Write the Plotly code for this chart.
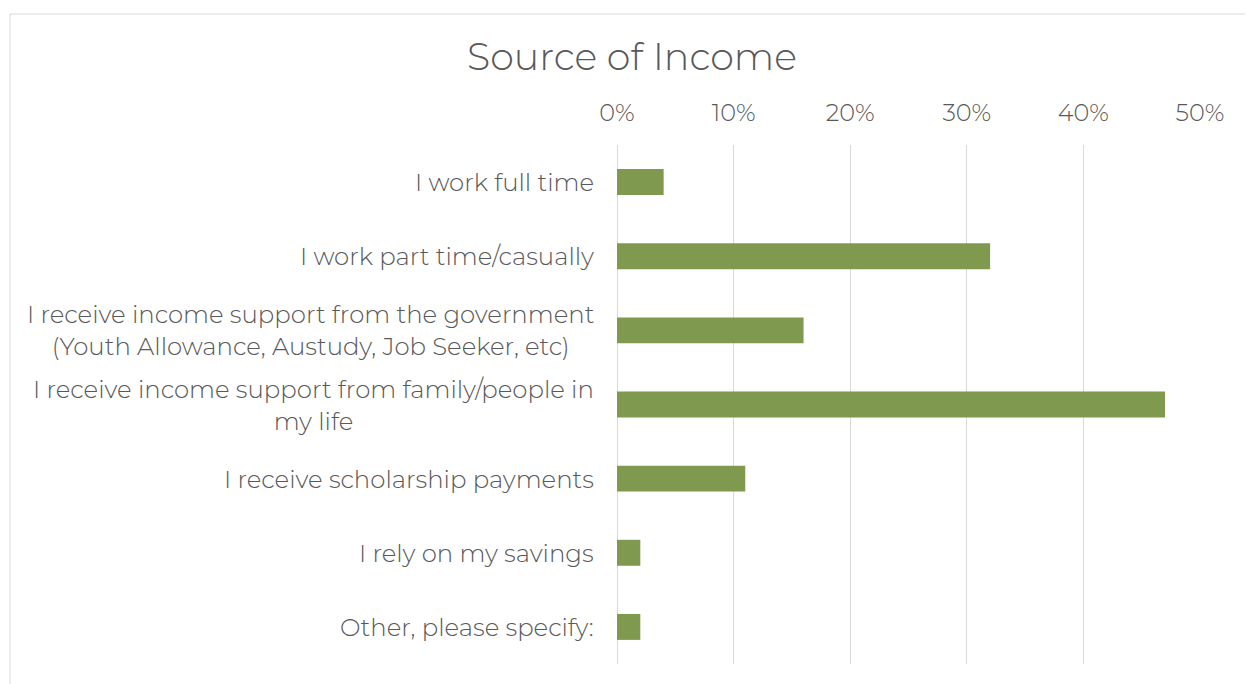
import plotly.graph_objects as go

categories = [
    "I work full time",
    "I work part time/casually",
    "I receive income support from the government<br>(Youth Allowance, Austudy, Job Seeker, etc)",
    "I receive income support from family/people in<br>my life",
    "I receive scholarship payments",
    "I rely on my savings",
    "Other, please specify:",
]
values = [0.04, 0.32, 0.16, 0.47, 0.11, 0.02, 0.02]
tick_vals = [0, 0.1, 0.2, 0.3, 0.4, 0.5]
tick_text = ["0%", "10%", "20%", "30%", "40%", "50%"]

OFF = 8  # page body margin
W, H = 1253, 684
L, T = 617 - OFF, 145 - OFF
R, B = W - (1200 - OFF), H - (664 - OFF)
pw, ph = W - L - R, H - T - B
FONT = "Montserrat, Open Sans, sans-serif"
TXT = "#595959"
GRID = "#d9d9d9"

fig = go.Figure(go.Bar(
    x=values, y=list(range(len(categories))), orientation="h",
    marker=dict(color="#7F9A4F", line=dict(width=0)),
    hoverinfo="skip",
))

annotations = []
for i, c in enumerate(categories):
    annotations.append(dict(
        x=0, xref="paper", y=i, yref="y", text=c, showarrow=False,
        xanchor="right", yanchor="middle", align="center", xshift=-21,
        font=dict(family=FONT, size=24.4, color=TXT, weight=300),
    ))

fig.update_layout(
    width=W, height=H,
    margin=dict(l=L, r=R, t=T, b=B, autoexpand=False),
    paper_bgcolor="white", plot_bgcolor="white",
    bargap=0.65,
    showlegend=False,
    title=dict(text="Source of Income", x=(632 - OFF) / W, xanchor="center",
               y=1 - (57 - OFF) / H, yanchor="middle", yref="container",
               font=dict(family=FONT, size=38, color=TXT, weight=300)),
    xaxis=dict(side="top", range=[0, 0.5], tickvals=tick_vals, ticktext=tick_text,
               showgrid=True, gridcolor=GRID, gridwidth=1.3,
               zeroline=True, zerolinecolor=GRID, zerolinewidth=1.3,
               showline=False, ticks="",
               ticklabelstandoff=18,
               tickfont=dict(family=FONT, size=24, color=TXT, weight=300)),
    yaxis=dict(range=[len(categories) - 0.5, -0.5], showticklabels=False,
               showgrid=False, zeroline=False, showline=False, ticks=""),
    annotations=annotations,
    shapes=[dict(type="rect", xref="paper", yref="paper",
                 x0=(10 - OFF - L) / pw, x1=(W + 20 - L) / pw,
                 y0=-(B + 20) / ph, y1=1 + (T - (14 - OFF)) / ph,
                 line=dict(color=GRID, width=1), fillcolor="rgba(0,0,0,0)",
                 layer="below")],
)

fig.write_html("out.html")
